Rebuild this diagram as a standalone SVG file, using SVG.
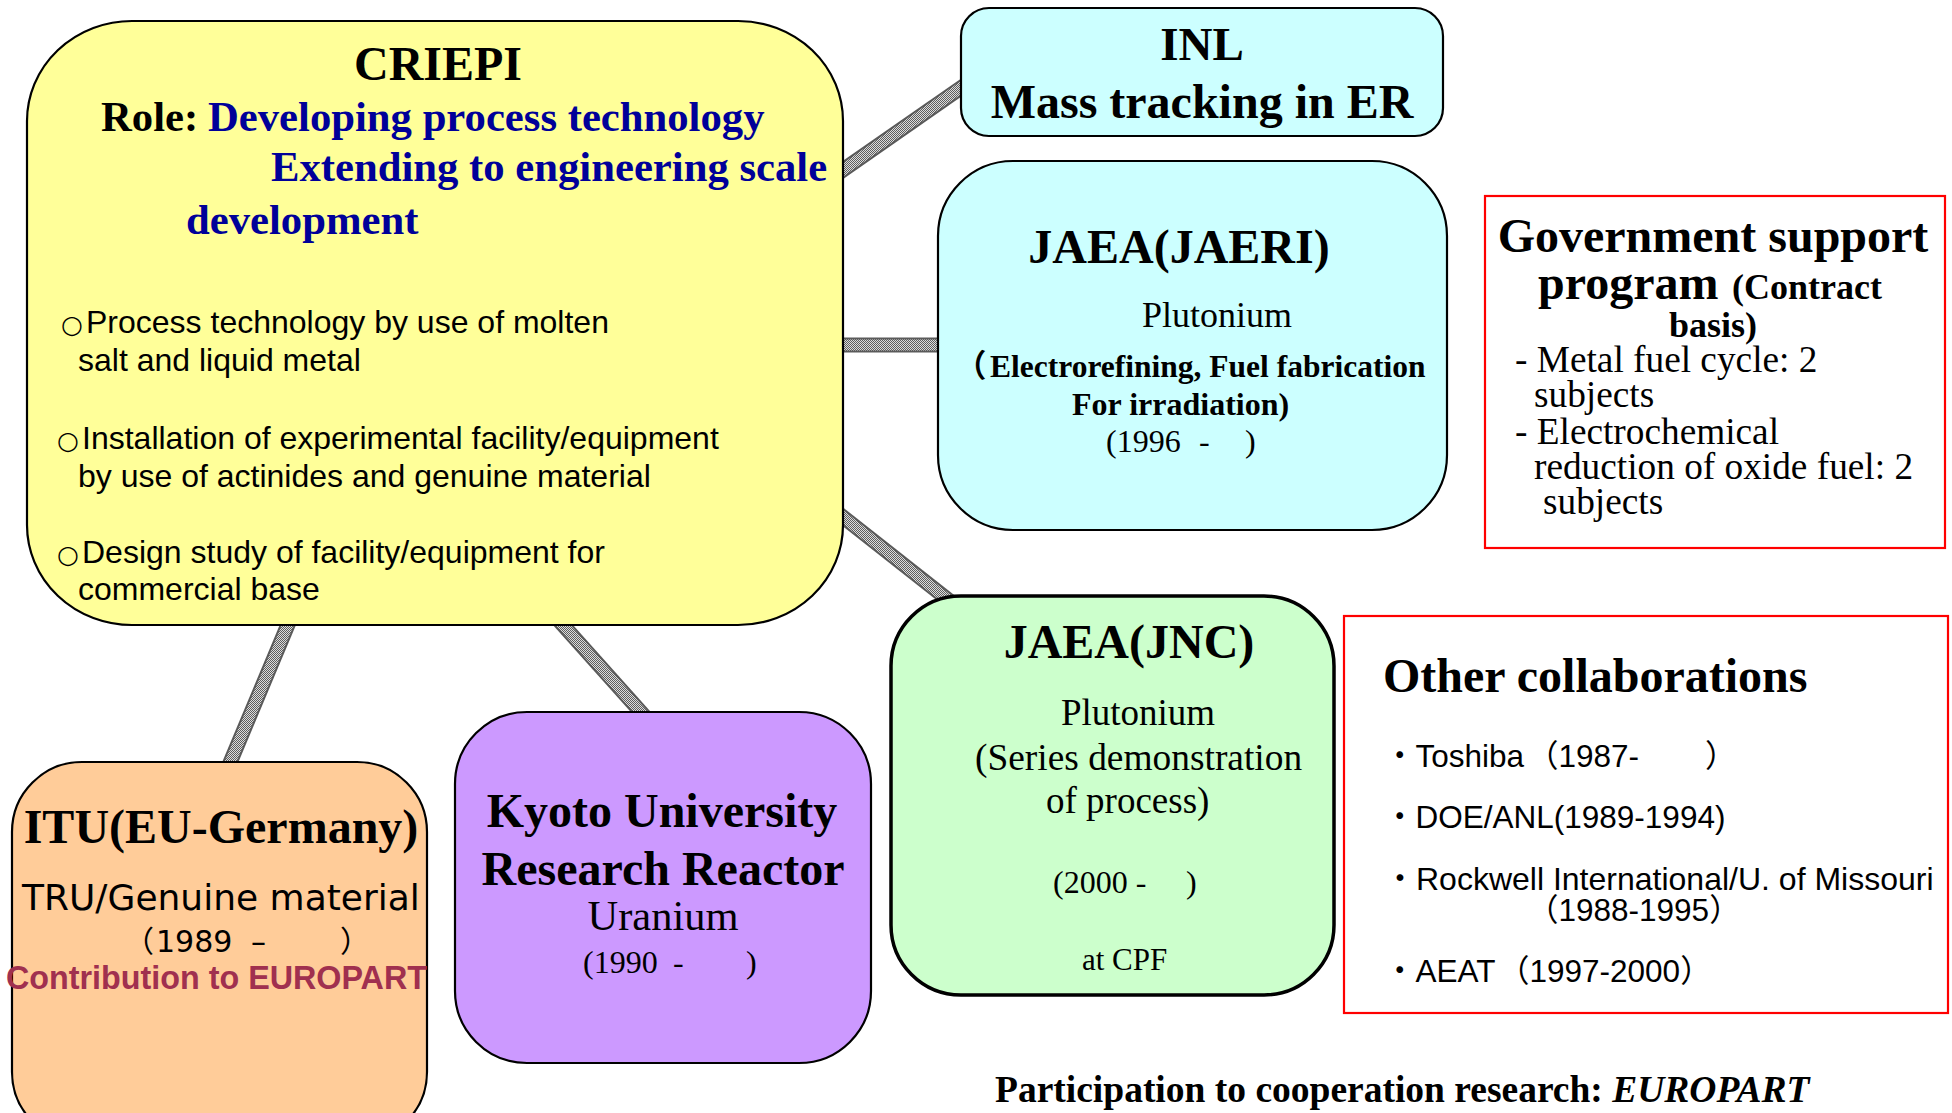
<svg xmlns="http://www.w3.org/2000/svg" width="1952" height="1113" viewBox="0 0 1952 1113">
  <defs>
    <!-- stippled grey used for the link bars -->
    <pattern id="dither" width="2" height="2" patternUnits="userSpaceOnUse">
      <rect width="2" height="2" fill="#dcdcdc"/>
      <rect width="1" height="1" fill="#5e5e5e"/>
      <rect x="1" y="1" width="1" height="1" fill="#5e5e5e"/>
    </pattern>
    <style>
      .serif{font-family:"Liberation Serif","Times New Roman","Noto Sans CJK JP",serif}
      .sans{font-family:"Liberation Sans",Arial,"Noto Sans CJK JP",sans-serif}
      .dv{font-family:"DejaVu Sans","Noto Sans CJK JP",sans-serif}
      .b{font-weight:bold}
      .mid{text-anchor:middle}
      .blue{fill:#000099}
      .bar-edge{stroke:#5a5a5a;stroke-width:15;stroke-linecap:butt}
      .bar-fill{stroke:url(#dither);stroke-width:11;stroke-linecap:butt}
      .node{stroke:#000;stroke-width:2.2}
      .redbox{fill:#fff;stroke:#ff0000;stroke-width:2.2}
      text{fill:#000}
    </style>
  </defs>

  <rect width="1952" height="1113" fill="#fff"/>

  <!-- link bars between CRIEPI and partners -->
  <g id="connectors">
    <line class="bar-edge" x1="835" y1="175.5" x2="968" y2="82.8"/>
    <line class="bar-fill" x1="835" y1="175.5" x2="968" y2="82.8"/>
    <line class="bar-edge" x1="835" y1="345" x2="945" y2="345"/>
    <line class="bar-fill" x1="835" y1="345" x2="945" y2="345"/>
    <line class="bar-edge" x1="835" y1="510.7" x2="955" y2="605.2"/>
    <line class="bar-fill" x1="835" y1="510.7" x2="955" y2="605.2"/>
    <line class="bar-edge" x1="292" y1="615" x2="227" y2="770"/>
    <line class="bar-fill" x1="292" y1="615" x2="227" y2="770"/>
    <line class="bar-edge" x1="554" y1="615" x2="648" y2="720"/>
    <line class="bar-fill" x1="554" y1="615" x2="648" y2="720"/>
  </g>

  <!-- CRIEPI -->
  <g id="criepi">
    <rect class="node" x="27" y="21" width="816" height="604" rx="105" ry="100" fill="#ffff99"/>
    <text class="serif b mid" x="438" y="80" font-size="48">CRIEPI</text>
    <text class="serif b" x="101" y="131" font-size="42.7">Role: <tspan class="blue" x="208">Developing process technology</tspan></text>
    <text class="serif b blue" x="271" y="181" font-size="42.7">Extending to engineering scale</text>
    <text class="serif b blue" x="186" y="234" font-size="42.7">development</text>
    <g class="sans" font-size="32">
      <text x="61" y="333"><tspan class="dv" font-size="25">○</tspan><tspan x="86">Process technology by use of molten</tspan></text>
      <text x="78" y="371">salt and liquid metal</text>
      <text x="57" y="449"><tspan class="dv" font-size="25">○</tspan><tspan x="82">Installation of experimental facility/equipment</tspan></text>
      <text x="78" y="487">by use of actinides and genuine material</text>
      <text x="57" y="563"><tspan class="dv" font-size="25">○</tspan><tspan x="82">Design study of facility/equipment for</tspan></text>
      <text x="78" y="600">commercial base</text>
    </g>
  </g>

  <!-- INL -->
  <g id="inl">
    <rect class="node" x="961" y="8" width="482" height="128" rx="28" fill="#ccffff"/>
    <text class="serif b mid" x="1202" y="60" font-size="47">INL</text>
    <text class="serif b mid" x="1202" y="118" font-size="48">Mass tracking in ER</text>
  </g>

  <!-- JAEA (JAERI) -->
  <g id="jaea-jaeri">
    <rect class="node" x="938" y="161" width="509" height="369" rx="75" fill="#ccffff"/>
    <text class="serif b mid" x="1179" y="263" font-size="48">JAEA(JAERI)</text>
    <text class="serif mid" x="1217" y="327" font-size="36">Plutonium</text>
    <text class="serif b" x="955" y="377" font-size="31.5">（<tspan x="990">Electrorefining, Fuel fabrication</tspan></text>
    <text class="serif b" x="1072" y="415" font-size="32">For irradiation)</text>
    <text class="serif" y="452" font-size="32"><tspan x="1106">(1996</tspan><tspan x="1199">-</tspan><tspan x="1245">)</tspan></text>
  </g>

  <!-- Government support program -->
  <g id="government-support">
    <rect class="redbox" x="1485" y="196" width="460" height="352"/>
    <text class="serif b mid" x="1713" y="252" font-size="48">Government support</text>
    <text class="serif b" y="299"><tspan x="1538" font-size="48">program</tspan><tspan x="1732" font-size="36">(Contract</tspan></text>
    <text class="serif b mid" x="1713" y="337" font-size="36">basis)</text>
    <g class="serif" font-size="37.3">
      <text x="1515" y="372">- Metal fuel cycle: 2</text>
      <text x="1534" y="407">subjects</text>
      <text x="1515" y="444">- Electrochemical</text>
      <text x="1534" y="479">reduction of oxide fuel: 2</text>
      <text x="1543" y="514">subjects</text>
    </g>
  </g>

  <!-- JAEA (JNC) -->
  <g id="jaea-jnc">
    <rect x="891" y="596" width="443" height="399" rx="70" fill="#ccffcc" stroke="#000" stroke-width="3.5"/>
    <text class="serif b mid" x="1129" y="658" font-size="48">JAEA(JNC)</text>
    <text class="serif mid" x="1138" y="725" font-size="37">Plutonium</text>
    <text class="serif" x="975" y="770" font-size="37.4">(Series demonstration</text>
    <text class="serif" x="1046" y="813" font-size="37">of process)</text>
    <text class="serif" y="893" font-size="32"><tspan x="1053">(2000 -</tspan><tspan x="1186">)</tspan></text>
    <text class="serif" x="1082" y="970" font-size="31">at CPF</text>
  </g>

  <!-- Other collaborations -->
  <g id="other-collaborations">
    <rect class="redbox" x="1344" y="616" width="604" height="397"/>
    <text class="serif b" x="1383" y="692" font-size="48">Other collaborations</text>
    <g class="sans" font-size="31.5">
      <text y="767"><tspan x="1384">・Toshiba</tspan><tspan x="1527">（1987-</tspan><tspan x="1705">）</tspan></text>
      <text x="1384" y="828">・DOE/ANL(1989-1994)</text>
      <text x="1384" y="890" font-size="32">・Rockwell International/U. of Missouri</text>
      <text x="1527" y="921">（1988-1995）</text>
      <text y="982"><tspan x="1384">・AEAT</tspan><tspan x="1498">（1997-2000）</tspan></text>
    </g>
  </g>

  <!-- ITU (EU-Germany) -->
  <g id="itu">
    <rect class="node" x="12" y="762" width="415" height="380" rx="70" fill="#ffcc99"/>
    <text class="serif b mid" x="221" y="843" font-size="48">ITU(EU-Germany)</text>
    <text class="dv" x="22" y="910" font-size="36">TRU/Genuine material</text>
    <text class="dv" y="952" font-size="30"><tspan x="124">（</tspan><tspan x="156">1989</tspan><tspan x="251">–</tspan><tspan x="340">）</tspan></text>
    <text class="sans b" x="6" y="989" font-size="32.3" style="fill:#a0304f">Contribution to EUROPART</text>
  </g>

  <!-- Kyoto University Research Reactor -->
  <g id="kyoto">
    <rect class="node" x="455" y="712" width="416" height="351" rx="72" fill="#cc99ff"/>
    <text class="serif b mid" x="662" y="827" font-size="48">Kyoto University</text>
    <text class="serif b mid" x="663" y="885" font-size="48">Research Reactor</text>
    <text class="serif mid" x="663" y="930" font-size="42.5">Uranium</text>
    <text class="serif" y="973" font-size="32"><tspan x="583">(1990</tspan><tspan x="673">-</tspan><tspan x="746">)</tspan></text>
  </g>

  <!-- footnote -->
  <text class="serif b" x="995" y="1102" font-size="37.5">Participation to cooperation research: <tspan font-style="italic">EUROPART</tspan></text>
</svg>
